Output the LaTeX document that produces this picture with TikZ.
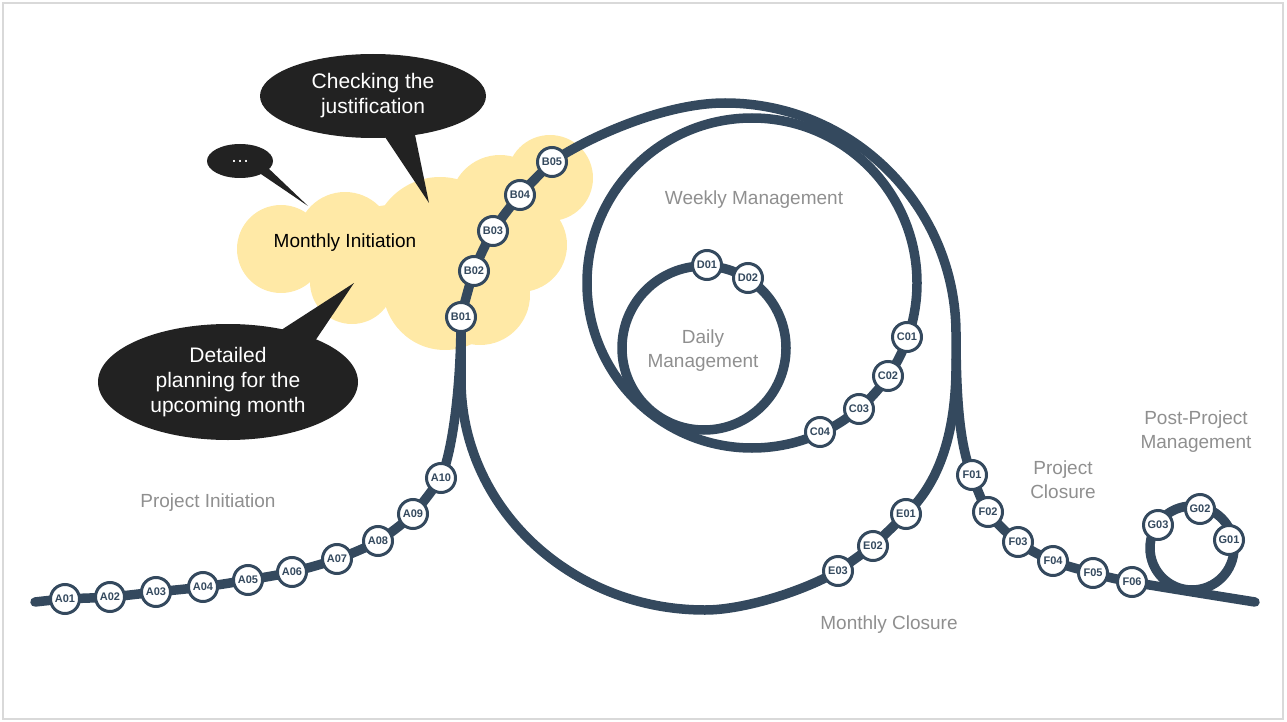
\documentclass[tikz,border=0pt]{standalone}
\usepackage{fontspec}
\setmainfont{Liberation Sans}
\usetikzlibrary{shapes.geometric}
\definecolor{trackblue}{RGB}{52,73,94}
\definecolor{cloudyellow}{RGB}{255,233,166}
\definecolor{bubbleblack}{RGB}{34,34,34}
\definecolor{labelgray}{RGB}{143,143,143}
\definecolor{framegray}{RGB}{217,217,217}

\begin{document}
\begin{tikzpicture}[x=1pt,y=-1pt,
  track/.style={draw=trackblue,line width=9.5pt,line cap=round},
  stn/.style={circle,draw=trackblue,fill=white,line width=3pt,minimum size=29pt,inner sep=0pt,
    text=trackblue,font=\fontsize{11}{11}\selectfont\bfseries},
  lbl/.style={text=labelgray,font=\fontsize{19}{24}\selectfont,align=center,inner sep=0pt},
  bubble/.style={ellipse,fill=bubbleblack,text=white,inner sep=0pt,align=center,
    font=\fontsize{21}{25}\selectfont}]
  \useasboundingbox (0,0) rectangle (1287,722);
  \draw[framegray,line width=1.5pt] (3,3) rectangle (1283,719);
  \foreach \x/\y/\rad in {281/249/44, 345/240/48, 390/255/50, 440/245/68, 500/205/50, 550/178/43,
    520/245/47, 480/295/50, 445/288/62, 352/282/42}
    \fill[cloudyellow] (\x,\y) circle[radius=\rad pt];
  \node[bubble,minimum width=226pt,minimum height=84pt] (chk) at (373,96) {Checking the\\justification};
  \node[bubble,minimum width=66pt,minimum height=34pt,font=\fontsize{19}{19}\selectfont] (dots) at (240,161) {\ldots};
  \node[bubble,minimum width=260pt,minimum height=116pt] (plan) at (228,382) {Detailed\\planning for the\\upcoming month};
  \fill[bubbleblack] (377,125) -- (429,203) -- (413,125) -- cycle;
  \fill[bubbleblack] (255,170) -- (308,206) -- (266,166) -- cycle;
  \fill[bubbleblack] (275,334) -- (354,283) -- (313,344) -- cycle;
  \node[font=\fontsize{19}{24}\selectfont] (mi) at (345,243) {Monthly Initiation};
  \foreach \n/\x/\y in {A01/65/599, A02/110/597, A03/156/592, A04/203/587, A05/248/580,
    A06/292/572, A07/337/559, A08/378/541, A09/413/514, A10/441/478,
    B01/461/317, B02/474/271, B03/493/231, B04/520/195, B05/552/162,
    C01/907/337, C02/888/376, C03/859/409, C04/820/432, D01/707/265, D02/748/278,
    E01/906/514, E02/873/546, E03/838/571,
    F01/972/475, F02/988/512, F03/1018/542, F04/1053/561, F05/1093/573, F06/1132/582,
    G01/1229/540, G02/1200/509, G03/1158/525}
    \coordinate (p\n) at (\x,\y);
  \draw[track] plot[smooth] coordinates {(35,602) (pA01) (pA02) (pA03) (pA04) (pA05) (pA06)
    (pA07) (pA08) (pA09) (pA10)};
  \draw[track] (pA10) .. controls (451,455) and (461,395) .. (pB01);
  \draw[track] plot[smooth] coordinates {(pB01) (pB02) (pB03) (pB04) (pB05)};
  \draw[track] (pB05) .. controls (580,142) and (660,103) .. (725,103)
    .. controls (852.6,103) and (956,206.4) .. (956,334)
    .. controls (956,400) and (960,447) .. (pF01);
  \draw[track] plot[smooth] coordinates {(pF01) (pF02) (pF03) (pF04) (pF05) (pF06) (1255,602)};
  \draw[track] (956,360) .. controls (957,440) and (935,487) .. (pE01) -- (pE02) -- (pE03)
    .. controls (806,590) and (745,610) .. (705,610)
    .. controls (570,610) and (461,507) .. (461,380) -- (pB01);
  \draw[track] (752,283) circle[radius=165pt];
  \draw[track] (704,348) circle[radius=82pt];
  \draw[track] (1192,548) circle[radius=42pt];
  \foreach \n in {A01,A02,A03,A04,A05,A06,A07,A08,A09,A10,B01,B02,B03,B04,B05,
    C01,C02,C03,C04,D01,D02,E01,E02,E03,F01,F02,F03,F04,F05,F06,G01,G02,G03}
    \node[stn] (\n) at (p\n) {\n};
  \node[lbl] (pi) at (208,503) {Project Initiation};
  \node[lbl] (wm) at (754,200) {Weekly Management};
  \node[lbl] (dm) at (703,351) {Daily\\Management};
  \node[lbl] (mc) at (889,625) {Monthly Closure};
  \node[lbl] (pc) at (1063,480) {Project\\Closure};
  \node[lbl] (ppm) at (1196,432) {Post-Project\\Management};
\end{tikzpicture}
\end{document}
